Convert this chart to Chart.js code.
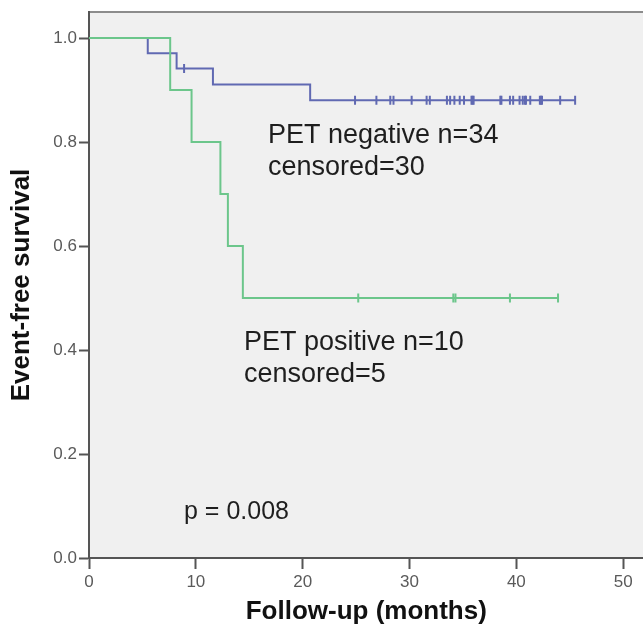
<!DOCTYPE html>
<html>
<head>
<meta charset="utf-8">
<script src="https://cdn.jsdelivr.net/npm/chart.js@4/dist/chart.umd.min.js"></script>
<style>
  html, body { margin: 0; padding: 0; background: #ffffff; overflow: hidden; }
  #wrap { width: 643px; height: 631px; overflow: hidden; }
</style>
</head>
<body>
<div id="wrap"><canvas id="km" width="650" height="631"></canvas></div>
<script>
// Kaplan-Meier event-free survival, PET negative vs PET positive
// (the plot frame runs on past the right edge, so the canvas is a little wider than the view)

// PET negative (n=34): event times (months) and survival after each event
const negEventTimes = [5.5, 8.2, 11.6, 20.7];
const negEventSurv = [0.9706, 0.9412, 0.9108, 0.8804];
// PET negative censored follow-up times (months)
const negCensorTimes = [8.9, 24.9, 26.9, 28.2, 28.5, 30.2, 31.6, 31.9, 33.5, 33.8, 34.2, 34.7,
  35.1, 35.8, 35.9, 36.0, 38.5, 38.6, 39.4, 39.7, 40.3, 40.6, 40.8, 40.9, 41.3, 42.2, 42.3,
  42.4, 44.1, 45.5];

// PET positive (n=10)
const posEventTimes = [7.6, 9.6, 12.3, 13.0, 14.4];
const posEventSurv = [0.9, 0.8, 0.7, 0.6, 0.5];
const posCensorTimes = [25.2, 34.1, 34.3, 39.4, 43.9];

// Axis ticks
const xTicks = [0, 10, 20, 30, 40, 50];
const yTicks = [0.0, 0.2, 0.4, 0.6, 0.8, 1.0];

// Annotation texts
const negLabel = ['PET negative n=34', 'censored=30'];
const posLabel = ['PET positive n=10', 'censored=5'];
const pLabel = 'p = 0.008';

// survival level of a step curve at time t
function survAt(times, surv, t) {
  let s = 1;
  for (let i = 0; i < times.length; i++) if (times[i] <= t) s = surv[i];
  return s;
}

// step-curve points: start at (0,1), each event, then flat to last follow-up
function stepPoints(times, surv, censors) {
  const pts = [{x: 0, y: 1}];
  times.forEach((t, i) => pts.push({x: t, y: surv[i]}));
  const last = Math.max(...censors);
  pts.push({x: last, y: survAt(times, surv, last)});
  return pts;
}
function censorPoints(times, surv, censors) {
  return censors.map(t => ({x: t, y: survAt(times, surv, t)}));
}

const BLUE = '#6069b2';
const GREEN = '#6cc68b';
const FONT = '"Liberation Sans", Arial, sans-serif';

const plotBg = {
  id: 'plotBg',
  beforeDraw(chart) {
    const {ctx, chartArea: a} = chart;
    ctx.save();
    ctx.fillStyle = '#f0f0f0';
    ctx.fillRect(a.left, a.top, a.right - a.left, a.bottom - a.top);
    ctx.strokeStyle = '#8c8c8c';
    ctx.lineWidth = 2;
    ctx.beginPath();
    ctx.moveTo(a.left, a.top);
    ctx.lineTo(a.right, a.top);
    ctx.stroke();
    ctx.restore();
  }
};

const annotations = {
  id: 'annotations',
  afterDatasetsDraw(chart) {
    const ctx = chart.ctx;
    ctx.save();
    ctx.fillStyle = '#1e1e1e';
    ctx.textAlign = 'left';
    ctx.textBaseline = 'alphabetic';
    ctx.font = '27px ' + FONT;
    ctx.fillText(negLabel[0], 268, 143);
    ctx.fillText(negLabel[1], 268, 175);
    ctx.fillText(posLabel[0], 244, 350);
    ctx.fillText(posLabel[1], 244, 382);
    ctx.font = '25px ' + FONT;
    ctx.fillText(pLabel, 184, 519);
    ctx.restore();
  }
};

new Chart(document.getElementById('km'), {
  type: 'line',
  data: {
    datasets: [
      {
        label: 'PET positive',
        data: stepPoints(posEventTimes, posEventSurv, posCensorTimes),
        borderColor: GREEN, borderWidth: 2, stepped: 'before',
        pointRadius: 0, fill: false, order: 1
      },
      {
        label: 'PET positive censored',
        type: 'scatter',
        data: censorPoints(posEventTimes, posEventSurv, posCensorTimes),
        pointStyle: 'line', rotation: 90, pointRadius: 4.5,
        borderColor: GREEN, pointBorderWidth: 2, showLine: false, order: 0
      },
      {
        label: 'PET negative',
        data: stepPoints(negEventTimes, negEventSurv, negCensorTimes),
        borderColor: BLUE, borderWidth: 2, stepped: 'before',
        pointRadius: 0, fill: false, order: 3
      },
      {
        label: 'PET negative censored',
        type: 'scatter',
        data: censorPoints(negEventTimes, negEventSurv, negCensorTimes),
        pointStyle: 'line', rotation: 90, pointRadius: 4.5,
        borderColor: BLUE, pointBorderWidth: 2, showLine: false, order: 2
      }
    ]
  },
  options: {
    responsive: false,
    devicePixelRatio: 1,
    animation: false,
    layout: { padding: { top: 12, right: 0, left: 0, bottom: 0 } },
    plugins: { legend: { display: false }, tooltip: { enabled: false } },
    scales: {
      x: {
        type: 'linear', min: 0, max: 51.9,
        afterFit(s) { s.height = 73; s.paddingLeft = 0; s.paddingRight = 0; },
        afterBuildTicks(s) { s.ticks = xTicks.map(v => ({value: v})); },
        ticks: {
          font: { family: FONT, size: 17 }, color: '#5a5a5a', padding: 3,
          maxRotation: 0, includeBounds: false
        },
        grid: { drawOnChartArea: false, drawTicks: true, tickLength: 11, tickColor: '#555', tickWidth: 2 },
        border: { display: true, color: '#555', width: 2 },
        title: {
          display: true, text: 'Follow-up (months)', color: '#111',
          font: { family: FONT, size: 26, weight: 'bold' }, padding: { top: 0, bottom: 4 }
        }
      },
      y: {
        type: 'linear', min: 0, max: 1.05,
        afterFit(s) { s.width = 89; s.paddingTop = 0; s.paddingBottom = 0; },
        afterBuildTicks(s) { s.ticks = yTicks.map(v => ({value: v})); },
        ticks: {
          font: { family: FONT, size: 17 }, color: '#5a5a5a', padding: 2,
          callback: v => Number(v).toFixed(1), includeBounds: false
        },
        grid: { drawOnChartArea: false, drawTicks: true, tickLength: 10, tickColor: '#555', tickWidth: 2 },
        border: { display: true, color: '#555', width: 2 },
        title: {
          display: true, text: 'Event-free survival', color: '#111',
          font: { family: FONT, size: 26, weight: 'bold' }, padding: { top: 6, bottom: 0 }
        }
      }
    }
  },
  plugins: [plotBg, annotations]
});
</script>
</body>
</html>
